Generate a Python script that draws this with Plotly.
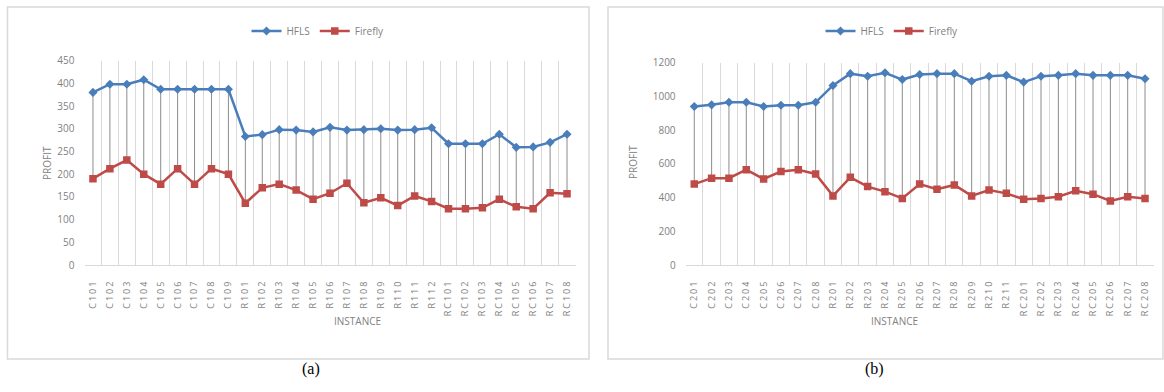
import plotly.graph_objects as go

W, H = 1164, 392

# ---------- data (a) ----------
inst_a = ["C101", "C102", "C103", "C104", "C105", "C106", "C107", "C108", "C109",
          "R101", "R102", "R103", "R104", "R105", "R106", "R107", "R108", "R109", "R110", "R111", "R112",
          "RC101", "RC102", "RC103", "RC104", "RC105", "RC106", "RC107", "RC108"]
hfls_a = [380, 398, 398, 408, 387, 387, 387, 387, 387,
          283, 287, 298, 297, 293, 303, 297, 298, 300, 297, 298, 302,
          267, 267, 267, 288, 259, 260, 270, 288]
firefly_a = [190, 212, 231, 200, 178, 212, 178, 212, 200,
             136, 170, 178, 165, 145, 158, 180, 137, 148, 131, 152, 140,
             124, 124, 126, 145, 128, 124, 159, 157]

# ---------- data (b) ----------
inst_b = ["C201", "C202", "C203", "C204", "C205", "C206", "C207", "C208",
          "R201", "R202", "R203", "R204", "R205", "R206", "R207", "R208", "R209", "R210", "R211",
          "RC201", "RC202", "RC203", "RC204", "RC205", "RC206", "RC207", "RC208"]
hfls_b = [940, 950, 965, 965, 940, 948, 948, 965,
          1065, 1135, 1120, 1140, 1100, 1130, 1135, 1135, 1090, 1120, 1125,
          1085, 1120, 1125, 1135, 1125, 1125, 1125, 1105]
firefly_b = [480, 515, 515, 565, 510, 555, 565, 540,
             410, 520, 465, 435, 395, 480, 450, 475, 410, 445, 425,
             390, 395, 405, 440, 420, 380, 405, 395]

yticks_a = [0, 50, 100, 150, 200, 250, 300, 350, 400, 450]
yticks_b = [0, 200, 400, 600, 800, 1000, 1200]

BLUE = "#4a7ebb"
RED = "#be4b48"
GRID = "#d9d9d9"
TXT = "#7f7f7f"
FONT = "Open Sans"


def px(x):
    return x / W


def py(y):
    return 1 - y / H


def hilo(cats, hi, lo):
    xs, ys = [], []
    for c, h, l in zip(cats, hi, lo):
        xs += [c, c, None]
        ys += [h, l, None]
    return xs, ys


def spaced(s):
    return '<span style="letter-spacing:2px">' + s + '</span>'


fig = go.Figure()

for cats, hi, lo, xa, ya, lg in [(inst_a, hfls_a, firefly_a, "x", "y", "legend"),
                                  (inst_b, hfls_b, firefly_b, "x2", "y2", "legend2")]:
    hx, hy = hilo(cats, hi, lo)
    fig.add_trace(go.Scatter(x=hx, y=hy, mode="lines", line=dict(color="#8c8c8c", width=1),
                             showlegend=False, hoverinfo="skip", xaxis=xa, yaxis=ya))
    fig.add_trace(go.Scatter(x=cats, y=hi, name="HFLS", mode="lines+markers",
                             line=dict(color=BLUE, width=2.5),
                             marker=dict(symbol="diamond", size=7, color=BLUE),
                             xaxis=xa, yaxis=ya, legend=lg))
    fig.add_trace(go.Scatter(x=cats, y=lo, name="Firefly", mode="lines+markers",
                             line=dict(color=RED, width=2.5),
                             marker=dict(symbol="square", size=7.5, color=RED),
                             xaxis=xa, yaxis=ya, legend=lg))

xcommon = dict(type="category", tickson="boundaries", showgrid=True, gridcolor=GRID, gridwidth=1,
               ticks="", showline=True, linecolor=GRID, tickangle=-90, automargin=False,
               ticklabelstandoff=10, tickfont=dict(family=FONT, size=9, color=TXT))
ycommon = dict(showgrid=False, zeroline=False, showline=False, ticks="", automargin=False,
               ticklabelstandoff=9, tickfont=dict(family=FONT, size=10, color=TXT))

fig.update_layout(
    width=W, height=H, margin=dict(l=0, r=0, t=0, b=0, autoexpand=False),
    paper_bgcolor="white", plot_bgcolor="white",
    xaxis=dict(**xcommon, anchor="y",
               domain=[px(84.5), px(575.5)], range=[-0.5, len(inst_a) - 0.5],
               tickmode="array", tickvals=inst_a, ticktext=[spaced(c) for c in inst_a]),
    yaxis=dict(**ycommon, anchor="x", domain=[py(265), py(60.6)], range=[0, 450],
               tickmode="array", tickvals=yticks_a),
    xaxis2=dict(**xcommon, anchor="y2",
                domain=[px(685.6), px(1153.7)], range=[-0.5, len(inst_b) - 0.5],
                tickmode="array", tickvals=inst_b, ticktext=[spaced(c) for c in inst_b]),
    yaxis2=dict(**ycommon, anchor="x2", domain=[py(265), py(62.7)], range=[0, 1200],
                tickmode="array", tickvals=yticks_b),
    legend=dict(orientation="h", x=px(318), y=py(31), xanchor="center", yanchor="middle",
                font=dict(family=FONT, size=10, color=TXT), bgcolor="rgba(0,0,0,0)",
                itemwidth=30, tracegroupgap=0),
    legend2=dict(orientation="h", x=px(892), y=py(31), xanchor="center", yanchor="middle",
                 font=dict(family=FONT, size=10, color=TXT), bgcolor="rgba(0,0,0,0)",
                 itemwidth=30, tracegroupgap=0),
    shapes=[
        dict(type="rect", xref="paper", yref="paper", x0=px(7.5), x1=px(589), y0=py(359), y1=py(7),
             line=dict(color=GRID, width=1.5), layer="below"),
        dict(type="rect", xref="paper", yref="paper", x0=px(608), x1=px(1163), y0=py(359), y1=py(7),
             line=dict(color=GRID, width=1.5), layer="below"),
    ],
    annotations=[
        dict(text="PROFIT", xref="paper", yref="paper", x=px(38), y=py(163), textangle=-90,
             showarrow=False, font=dict(family=FONT, size=10, color=TXT)),
        dict(text="PROFIT", xref="paper", yref="paper", x=px(633), y=py(162), textangle=-90,
             showarrow=False, font=dict(family=FONT, size=10, color=TXT)),
        dict(text="INSTANCE", xref="paper", yref="paper", x=px(332), y=py(330),
             showarrow=False, font=dict(family=FONT, size=10, color=TXT)),
        dict(text="INSTANCE", xref="paper", yref="paper", x=px(920), y=py(330),
             showarrow=False, font=dict(family=FONT, size=10, color=TXT)),
        dict(text="(a)", xref="paper", yref="paper", x=px(300), y=py(380),
             showarrow=False, font=dict(family="Liberation Serif", size=16, color="black")),
        dict(text="(b)", xref="paper", yref="paper", x=px(886), y=py(380),
             showarrow=False, font=dict(family="Liberation Serif", size=16, color="black")),
    ],
)

fig.write_html("out.html")
